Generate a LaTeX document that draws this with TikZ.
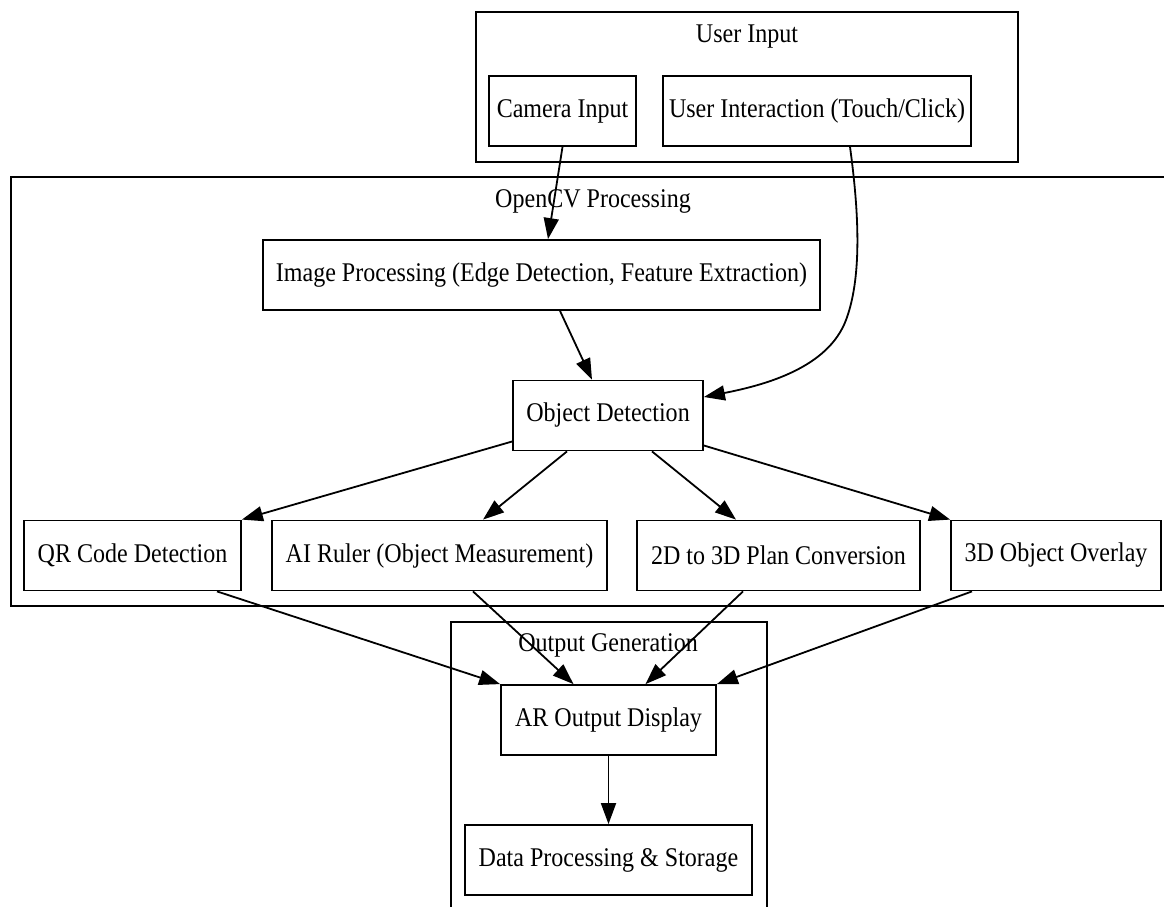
\documentclass[tikz,border=0pt]{standalone}
\usepackage{fontspec}
\setmainfont[FakeStretch=0.89]{Liberation Serif}
\usetikzlibrary{arrows.meta}

\tikzset{
	box/.style={draw, line width=1.8pt, inner xsep=6pt, minimum height=70pt, font=\fontsize{27}{30}\selectfont},
	cluster/.style={draw, line width=1.8pt},
	title/.style={font=\fontsize{27}{30}\selectfont},
	flow/.style={line width=1.8pt, -{Triangle[length=21pt, width=15pt]}}
}

\begin{document}
\begin{tikzpicture}[x=1pt, y=-1pt]
	\useasboundingbox (0,0) rectangle (1164,907);
	% groups
	\draw[cluster] (476,12) rectangle (1018,162);
	\draw[cluster] (11,177) rectangle (1170,606);
	\draw[cluster] (451,622) rectangle (767,915);
	\node[title] (tuser) at (747,37) {User Input};
	\node[title] (tcv) at (593,201) {OpenCV Processing};
	\node[title] (tout) at (608,645) {Output Generation};
	% boxes
	\node[box, minimum width=147pt] (cam) at (562.5,111) {Camera Input};
	\node[box, minimum width=304pt] (touch) at (817,111) {User Interaction (Touch/Click)};
	\node[box, minimum width=557pt] (improc) at (541.5,275) {Image Processing (Edge Detection, Feature Extraction)};
	\node[box, minimum width=190pt] (objdet) at (608,415.5) {Object Detection};
	\node[box, minimum width=217pt] (qr) at (132.5,555.5) {QR Code Detection};
	\node[box, minimum width=335pt] (ruler) at (439.5,555.5) {AI Ruler (Object Measurement)};
	\node[box, minimum width=283pt] (plan) at (778.5,555.5) {2D to 3D Plan Conversion};
	\node[box, minimum width=210pt] (overlay) at (1056,555.5) {3D Object Overlay};
	\node[box, minimum width=215pt] (ardisp) at (608.5,720) {AR Output Display};
	\node[box, minimum width=287pt] (store) at (608.5,860) {Data Processing \& Storage};
	% edges
	\draw[flow] (cam.south) -- ([xshift=6.5pt]improc.north);
	\draw[flow] ([xshift=33pt]touch.south) .. controls (860,220) and (861,280) .. (846,320)
		.. controls (828,368) and (765,385) .. ([yshift=18.5pt]objdet.east);
	\draw[flow] ([xshift=18.5pt]improc.south) -- ([xshift=-16pt]objdet.north);
	\draw[flow] ([yshift=-26pt]objdet.west) -- (qr.north east);
	\draw[flow] ([xshift=-41pt]objdet.south) -- ([xshift=43.5pt]ruler.north);
	\draw[flow] ([xshift=44pt]objdet.south) -- ([xshift=-42.5pt]plan.north);
	\draw[flow] ([yshift=-30pt]objdet.east) -- (overlay.north west);
	\draw[flow] ([xshift=84.5pt]qr.south) -- (ardisp.north west);
	\draw[flow] ([xshift=33.5pt]ruler.south) -- ([xshift=-35pt]ardisp.north);
	\draw[flow] ([xshift=-35.5pt]plan.south) -- ([xshift=37pt]ardisp.north);
	\draw[flow] ([xshift=-84pt]overlay.south) -- (ardisp.north east);
	\draw[flow] (ardisp.south) -- (store.north);
\end{tikzpicture}
\end{document}
